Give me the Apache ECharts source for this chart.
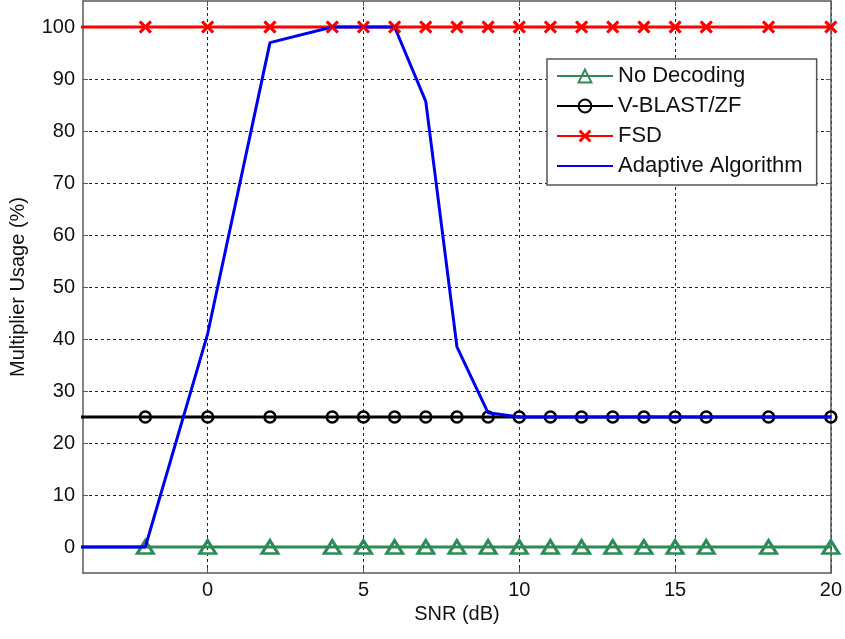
<!DOCTYPE html>
<html>
<head>
<meta charset="utf-8">
<title>Multiplier Usage vs SNR</title>
<script src="https://cdn.jsdelivr.net/npm/echarts@6/dist/echarts.min.js"></script>
<style>
  html, body { margin: 0; padding: 0; background: #ffffff; }
  #chart { width: 845px; height: 639px; }
</style>
</head>
<body>
<div id="chart"></div>
<script>
// SNR sample points (dB)
const snr = [-6, -2, 0, 2, 4, 5, 6, 7, 8, 9, 10, 11, 12, 13, 14, 15, 16, 18, 20];

// Multiplier usage (%) per decoder
const noDecoding = [0, 0, 0, 0, 0, 0, 0, 0, 0, 0, 0, 0, 0, 0, 0, 0, 0, 0, 0];
const vblastZf   = [25, 25, 25, 25, 25, 25, 25, 25, 25, 25, 25, 25, 25, 25, 25, 25, 25, 25, 25];
const fsd        = [100, 100, 100, 100, 100, 100, 100, 100, 100, 100, 100, 100, 100, 100, 100, 100, 100, 100, 100];
const adaptive   = [0, 0, 41, 97, 100, 100, 100, 85.7, 38.5, 25.8, 25, 25, 25, 25, 25, 25, 25, 25, 25];

// Axis ticks
const xTicks = [0, 5, 10, 15, 20];
const yTicks = [0, 10, 20, 30, 40, 50, 60, 70, 80, 90, 100];

const seriesNames = ['No Decoding', 'V-BLAST/ZF', 'FSD', 'Adaptive Algorithm'];

const pairs = arr => snr.map((x, i) => [x, arr[i]]);

const crossPath = 'path://M0,1.6 L1.6,0 L5,3.4 L8.4,0 L10,1.6 L6.6,5 L10,8.4 L8.4,10 L5,6.6 L1.6,10 L0,8.4 L3.4,5 Z';

const FONT = 'Liberation Sans, Arial, sans-serif';
const axisGray = '#5a5a5a';

const gridLine = { show: true, lineStyle: { color: '#222', width: 1, type: [3, 3] } };

const frameAxisLine = { show: true, onZero: false, lineStyle: { color: axisGray, width: 1.5 } };

const chart = echarts.init(document.getElementById('chart'), null, { renderer: 'canvas' });

chart.setOption({
  backgroundColor: '#ffffff',
  animation: false,
  grid: { left: 83, right: 12, top: 1, bottom: 66, containLabel: false },
  legend: {
    data: [
      { name: seriesNames[0] },
      { name: seriesNames[1] },
      { name: seriesNames[2] },
      { name: seriesNames[3], itemStyle: { opacity: 0 } }
    ],
    orient: 'vertical',
    left: 547,
    top: 59,
    padding: [6, 14, 8, 9],
    itemGap: 8,
    itemWidth: 56,
    itemHeight: 16,
    backgroundColor: '#ffffff',
    borderColor: '#555',
    borderWidth: 1.5,
    borderRadius: 0,
    textStyle: { fontFamily: FONT, fontSize: 22, color: '#111', lineHeight: 21 }
  },
  xAxis: [
    {
      type: 'value', min: -4, max: 20, position: 'bottom',
      name: 'SNR (dB)', nameLocation: 'middle', nameGap: 26,
      nameTextStyle: { fontFamily: FONT, fontSize: 20, color: '#111' },
      axisLine: frameAxisLine,
      axisTick: { show: true, inside: true, length: 5, customValues: xTicks, lineStyle: { color: axisGray } },
      axisLabel: { customValues: xTicks, fontFamily: FONT, fontSize: 20, color: '#111', margin: 7 },
      splitLine: gridLine
    },
    {
      type: 'value', min: -4, max: 20, position: 'top',
      axisLine: frameAxisLine,
      axisTick: { show: true, inside: true, length: 5, customValues: xTicks, lineStyle: { color: axisGray } },
      axisLabel: { show: false },
      splitLine: { show: false }
    }
  ],
  yAxis: [
    {
      type: 'value', min: -5, max: 105, position: 'left',
      name: 'Multiplier Usage (%)', nameLocation: 'middle', nameGap: 55, nameRotate: 90,
      nameTextStyle: { fontFamily: FONT, fontSize: 20, color: '#111' },
      axisLine: frameAxisLine,
      axisTick: { show: true, inside: true, length: 5, customValues: yTicks, lineStyle: { color: axisGray } },
      axisLabel: { customValues: yTicks, fontFamily: FONT, fontSize: 20, color: '#111', margin: 8 },
      splitLine: gridLine
    },
    {
      type: 'value', min: -5, max: 105, position: 'right',
      axisLine: frameAxisLine,
      axisTick: { show: true, inside: true, length: 5, customValues: yTicks, lineStyle: { color: axisGray } },
      axisLabel: { show: false },
      splitLine: { show: false }
    }
  ],
  series: [
    {
      name: seriesNames[0], type: 'line', data: pairs(noDecoding), z: 2,
      clip: true,
      symbol: 'triangle', symbolSize: [16, 13],
      itemStyle: { color: 'transparent', borderColor: '#2e8b57', borderWidth: 3 },
      lineStyle: { color: '#2e8b57', width: 3 },
      emphasis: { disabled: true }
    },
    {
      name: seriesNames[1], type: 'line', data: pairs(vblastZf), z: 3,
      clip: true,
      symbol: 'circle', symbolSize: 11,
      itemStyle: { color: 'transparent', borderColor: '#000000', borderWidth: 2.5 },
      lineStyle: { color: '#000000', width: 3 },
      emphasis: { disabled: true }
    },
    {
      name: seriesNames[2], type: 'line', data: pairs(fsd), z: 4,
      clip: true,
      symbol: crossPath, symbolSize: 13,
      itemStyle: { color: '#ff0000' },
      lineStyle: { color: '#ff0000', width: 3 },
      emphasis: { disabled: true }
    },
    {
      name: seriesNames[3], type: 'line', data: pairs(adaptive), z: 5,
      clip: true,
      symbol: 'none',
      lineStyle: { color: '#0000f0', width: 3 },
      itemStyle: { color: '#0000f0' },
      emphasis: { disabled: true }
    },
    {
      // FSD markers redrawn above the adaptive curve
      name: 'FSD markers', type: 'scatter', data: pairs(fsd), z: 6,
      clip: true,
      symbol: crossPath, symbolSize: 13,
      itemStyle: { color: '#ff0000' },
      emphasis: { disabled: true }
    }
  ]
});
</script>
</body>
</html>
